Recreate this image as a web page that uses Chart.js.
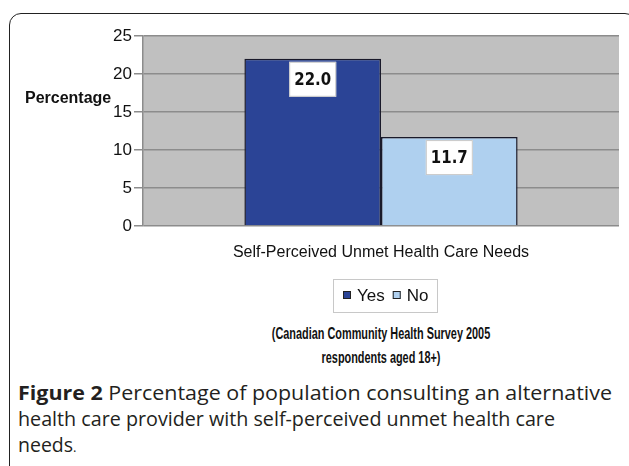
<!DOCTYPE html>
<html>
<head>
<meta charset="utf-8">
<script src="https://cdn.jsdelivr.net/npm/chart.js@4.4.1/dist/chart.umd.min.js"></script>
<style>
  body { margin: 0; width: 629px; height: 466px; overflow: hidden; background: #fff; position: relative; font-family: "Liberation Sans", Arial, sans-serif; }
  #frame { position: absolute; left: 9px; top: 13px; width: 628px; height: 520px; border: 1.5px solid #222; border-radius: 12px; box-sizing: border-box; }
  #wrap { position: absolute; left: 0; top: 0; width: 629px; height: 320px; }
  .sub { position: absolute; left: 0; width: 762px; text-align: center; font-weight: bold; font-size: 16.5px; color: #111; transform-origin: 381px 0; transform: scaleX(0.66); line-height: 20px; }
  #caption { position: absolute; left: 18px; top: 380px; width: 594px; font-family: "Open Sans", "Noto Sans", sans-serif; font-size: 19.5px; line-height: 26px; color: #231f20; }
  #caption div { white-space: nowrap; transform-origin: 0 0; }
  #caption b { font-weight: 700; }
  #caption .dot { font-size: 13px; }
</style>
</head>
<body>
<div id="frame"></div>
<div id="wrap"><canvas id="chart"></canvas></div>
<div class="sub" style="top:323px">(Canadian Community Health Survey 2005</div>
<div class="sub" style="top:347px">respondents aged 18+)</div>
<div id="caption">
  <div id="l1"><b>Figure 2</b> Percentage of population consulting an alternative</div>
  <div id="l2">health care provider with self-perceived unmet health care</div>
  <div>needs<span class="dot">.</span></div>
</div>
<script>
const categories = ["Self-Perceived Unmet Health Care Needs"];
const seriesNames = ["Yes", "No"];
const yesValues = [22.0];
const noValues = [11.7];
const yTicks = [0, 5, 10, 15, 20, 25];

const FONT = "'Liberation Sans', Arial, sans-serif";

// fit caption lines to their widths in the figure
function fitLine(id, target) {
  const el = document.getElementById(id);
  const r = document.createRange();
  r.selectNodeContents(el);
  const w = r.getBoundingClientRect().width;
  if (w > 0) el.style.transform = "scaleX(" + target / w + ")";
}
fitLine("l1", 594);
fitLine("l2", 537);

// value boxes drawn on top of each bar
const valueBoxes = {
  id: "valueBoxes",
  afterDatasetsDraw(chart) {
    const ctx = chart.ctx;
    chart.data.datasets.forEach((ds, di) => {
      chart.getDatasetMeta(di).data.forEach((bar, i) => {
        const w = 47, h = 35;
        const x = bar.x - w / 2, y = bar.y + 3;
        ctx.save();
        ctx.fillStyle = "#fff";
        ctx.fillRect(x, y, w, h);
        ctx.strokeStyle = "#c8c8c8";
        ctx.lineWidth = 1;
        ctx.strokeRect(x + 0.5, y + 0.5, w - 1, h - 1);
        ctx.translate(bar.x, y + h / 2 + 1);
        ctx.scale(0.88, 1);
        ctx.fillStyle = "#111";
        ctx.font = "bold 17px 'DejaVu Sans', Verdana, sans-serif";
        ctx.textAlign = "center";
        ctx.textBaseline = "middle";
        ctx.fillText(ds.data[i].toFixed(1), 0, 0);
        ctx.restore();
      });
    });
  },
};

// y-axis caption, horizontal, plus the framed legend
const extras = {
  id: "extras",
  afterDraw(chart) {
    const ctx = chart.ctx;
    ctx.save();
    ctx.fillStyle = "#111";
    ctx.font = "bold 16px " + FONT;
    ctx.textBaseline = "middle";
    ctx.textAlign = "left";
    ctx.fillText("Percentage", 25, 99);

    // legend
    const lx = 333, ly = 279, lw = 104, lh = 33;
    ctx.strokeStyle = "#c8c8c8";
    ctx.lineWidth = 1;
    ctx.strokeRect(lx + 0.5, ly + 0.5, lw, lh);
    ctx.font = "17px " + FONT;
    let x = lx + 10;
    chart.data.datasets.forEach((ds) => {
      ctx.fillStyle = ds.backgroundColor;
      ctx.fillRect(x, ly + 12, 8, 8);
      ctx.strokeStyle = "#222";
      ctx.strokeRect(x + 0.5, ly + 12.5, 7, 7);
      ctx.fillStyle = "#111";
      ctx.fillText(ds.label, x + 14, ly + 17);
      x += 14 + ctx.measureText(ds.label).width + 8;
    });
    ctx.restore();
  },
};

// grey plot background
const plotBg = {
  id: "plotBg",
  beforeDraw(chart) {
    const a = chart.chartArea, ctx = chart.ctx;
    ctx.save();
    ctx.fillStyle = "#c0c0c0";
    ctx.fillRect(a.left, a.top, a.right - a.left, a.bottom - a.top);
    ctx.restore();
  },
};

new Chart(document.getElementById("chart"), {
  type: "bar",
  data: {
    labels: categories,
    datasets: [
      { label: seriesNames[0], data: yesValues, backgroundColor: "#2b4496", borderColor: "#1a1a2a", borderWidth: 1.5 },
      { label: seriesNames[1], data: noValues, backgroundColor: "#afd0ef", borderColor: "#1a1a2a", borderWidth: 1.5 },
    ],
  },
  options: {
    responsive: true,
    maintainAspectRatio: false,
    animation: false,
    layout: { padding: { left: 0, right: 10, top: 36, bottom: 0 } },
    datasets: { bar: { categoryPercentage: 0.574, barPercentage: 1 } },
    scales: {
      x: {
        grid: { display: false, drawTicks: false },
        border: { display: false },
        ticks: { color: "#111", font: { family: FONT, size: 16 }, padding: 17 },
        afterFit(s) { s.height = 320 - 226; },
      },
      y: {
        min: 0,
        max: 25,
        afterBuildTicks(s) { s.ticks = yTicks.map((v) => ({ value: v })); },
        grid: { color: "#8c8c8c", lineWidth: 1.5, tickLength: 9 },
        border: { color: "#8c8c8c", width: 1.5 },
        ticks: { color: "#111", font: { family: FONT, size: 17 }, padding: 2 },
        afterFit(s) { s.width = 143; },
      },
    },
    plugins: { legend: { display: false }, tooltip: { enabled: false } },
  },
  plugins: [plotBg, valueBoxes, extras],
});
</script>
</body>
</html>
